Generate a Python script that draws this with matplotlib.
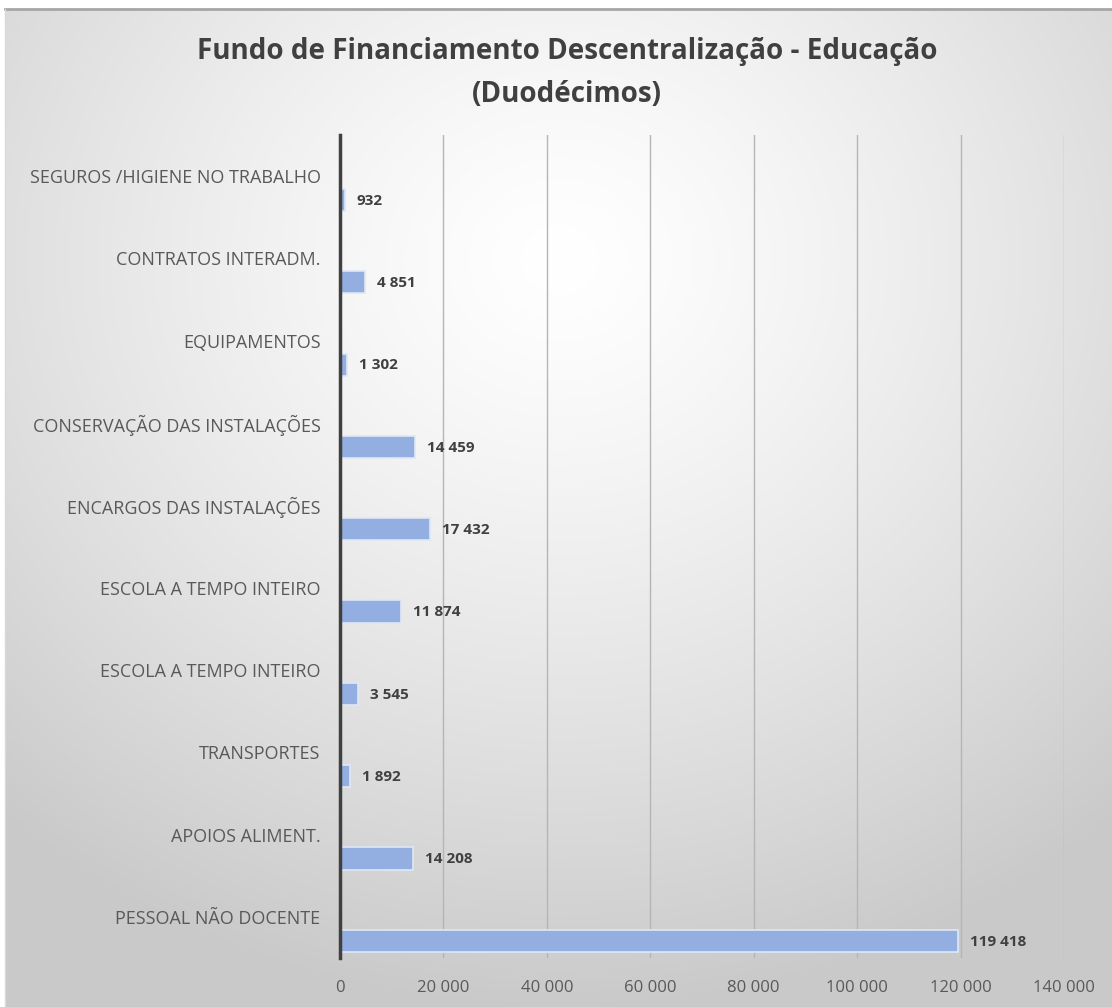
import numpy as np
import matplotlib
matplotlib.use("Agg")
import matplotlib.pyplot as plt
from matplotlib.ticker import FuncFormatter

categories = ["PESSOAL NÃO DOCENTE", "APOIOS ALIMENT.", "TRANSPORTES",
              "ESCOLA A TEMPO INTEIRO", "ESCOLA A TEMPO INTEIRO",
              "ENCARGOS DAS INSTALAÇÕES", "CONSERVAÇÃO DAS INSTALAÇÕES",
              "EQUIPAMENTOS", "CONTRATOS INTERADM.", "SEGUROS /HIGIENE NO TRABALHO"]
values = [119418, 14208, 1892, 3545, 11874, 17432, 14459, 1302, 4851, 932]
xticks = [0, 20000, 40000, 60000, 80000, 100000, 120000, 140000]
title = "Fundo de Financiamento Descentralização - Educação\n(Duodécimos)"

FONT = ["Open Sans", "DejaVu Sans"]
plt.rcParams['font.family'] = FONT

W, H = 1112, 1007
fig = plt.figure(figsize=(W / 100, H / 100), dpi=100)
fig.patch.set_facecolor("white")

# background gradient panel
bg = fig.add_axes([5 / W, 0, 1 - 5 / W, (H - 9) / H], zorder=-5)
yy, xx = np.mgrid[0:400, 0:440]
cx, cy = 220, 100
r = np.sqrt(((xx - cx) / 440) ** 2 + ((yy - cy) / 400) ** 2)
g = 1.0 - 0.21 * np.clip(r / 0.75, 0, 1) ** 1.3
bg.imshow(np.dstack([g, g, g]), aspect="auto", extent=[0, 1, 0, 1], origin="upper")
bg.set_axis_off()
fig.add_artist(plt.Line2D([5 / W, 1], [(H - 9) / H] * 2, color="#a6a6a6", lw=2))
fig.add_artist(plt.Line2D([5 / W] * 2, [0, (H - 9) / H], color="#d9d9d9", lw=1))

ax = fig.add_axes([340 / W, (H - 958) / H, (1064 - 340) / W, (958 - 135) / H])
ax.set_facecolor("none")
n = len(categories)
ypos = np.arange(n)
ax.barh(ypos - 0.29, values, height=0.27, color="#93aee0", edgecolor="#dfe7f5",
        linewidth=1.2, zorder=3)
for y, v in zip(ypos, values):
    ax.annotate(f"{v:,}".replace(",", " "), (v, y - 0.30), xytext=(12, 0),
                textcoords="offset pixels", va="center", ha="left",
                fontsize=11, fontweight="bold", color="#404040")

ax.set_xlim(0, 140000)
ax.set_ylim(-0.5, n - 0.5)
ax.set_xticks(xticks)
ax.xaxis.set_major_formatter(FuncFormatter(lambda v, p: f"{int(v):,}".replace(",", " ")))
ax.set_yticks(ypos)
ax.set_yticklabels(categories)
ax.tick_params(axis="y", length=0, pad=14, labelsize=13, labelcolor="#595959")
ax.tick_params(axis="x", length=0, pad=16, labelsize=12, labelcolor="#595959")
for s in ["top", "right", "bottom"]:
    ax.spines[s].set_visible(False)
ax.spines["left"].set_color("#404040")
ax.spines["left"].set_linewidth(2.5)
ax.spines["left"].set_zorder(4)
for x in xticks[1:]:
    ax.axvline(x, color="#b5b5b5", lw=1, zorder=1)

fig.text(567 / W, 1 - 73 / H, title, ha="center", va="center", fontsize=20,
         fontweight="bold", color="#404040", linespacing=1.65)

fig.savefig("out.png", dpi=100)
